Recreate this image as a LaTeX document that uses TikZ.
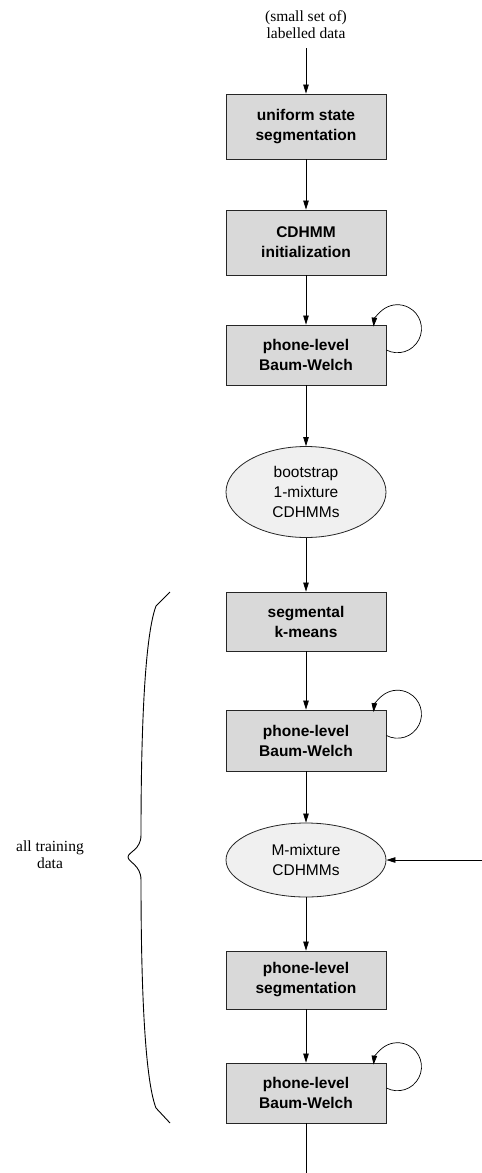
\documentclass[tikz,border=0pt]{standalone}
\usepackage{fontspec}
\setmainfont{Liberation Serif}
\setsansfont{Liberation Sans}
\usetikzlibrary{shapes.geometric,arrows.meta}

\tikzset{
  stagebox/.style={draw=black!85,fill=black!15,line width=.8pt,minimum width=160pt,
    minimum height=60pt,inner sep=0pt,align=center,
    font=\sffamily\bfseries\fontsize{15.5}{20}\selectfont},
  modelell/.style={ellipse,draw=black!85,fill=black!6,line width=.8pt,minimum width=160pt,
    inner sep=0pt,align=center,font=\sffamily\fontsize{15.5}{20}\selectfont},
  plain/.style={align=center,font=\fontsize{15.5}{17}\selectfont},
  flow/.style={line width=.7pt,-{Triangle[length=9pt,width=5.5pt]}}
}

\begin{document}
\begin{tikzpicture}[x=1pt,y=1pt]

\useasboundingbox (0,0) rectangle (482,-1173);

\node[plain] (labelled) at (306,-25) {(small set of)\\labelled data};
\node[stagebox,minimum height=65pt] (unifseg) at (306,-126.5) {uniform state\\segmentation};
\node[stagebox,minimum height=65pt] (init) at (306,-242.5) {CDHMM\\initialization};
\node[stagebox] (bw1) at (306,-355) {phone-level\\Baum-Welch};
\node[modelell,minimum height=91pt] (boot) at (306,-492) {bootstrap\\1-mixture\\CDHMMs};
\node[stagebox,minimum height=59pt] (segkm) at (306,-621.5) {segmental\\k-means};
\node[stagebox,minimum height=61pt] (bw2) at (306,-740.5) {phone-level\\Baum-Welch};
\node[modelell,minimum height=74pt] (mmix) at (306,-860) {M-mixture\\CDHMMs};
\node[stagebox,minimum height=58pt] (phseg) at (306,-980) {phone-level\\segmentation};
\node[stagebox] (bw3) at (306,-1093) {phone-level\\Baum-Welch};
\node[plain] (alldata) at (50,-854.5) {all training\\data};

\coordinate (datain) at (306,-48);
\coordinate (feedback) at (482,-860);
\coordinate (trainout) at (306,-1173);

% main chain
\draw[flow] (datain) -- (unifseg);
\foreach \a/\b in {unifseg/init,init/bw1,bw1/boot,boot/segkm,segkm/bw2,
                   bw2/mmix,mmix/phseg,phseg/bw3}
    \draw[flow] (\a) -- (\b);
\draw[flow] (feedback) -- (mmix);
\draw[line width=.7pt] (bw3) -- (trainout);

% re-estimation loops
\foreach \B in {bw1,bw2,bw3}
    \draw[flow] ([yshift=5pt]\B.east) arc[start angle=-117.5,end angle=175,radius=24];

% brace
\draw[line width=.9pt]
(170,-592) -- (156,-606) .. controls (147,-630) and (141,-700) .. (141,-835)
.. controls (141,-850) and (128,-852) .. (128,-857)
.. controls (128,-862) and (141,-865) .. (141,-880)
.. controls (141,-1015) and (147,-1085) .. (156,-1108) -- (170,-1123);

\end{tikzpicture}
\end{document}
